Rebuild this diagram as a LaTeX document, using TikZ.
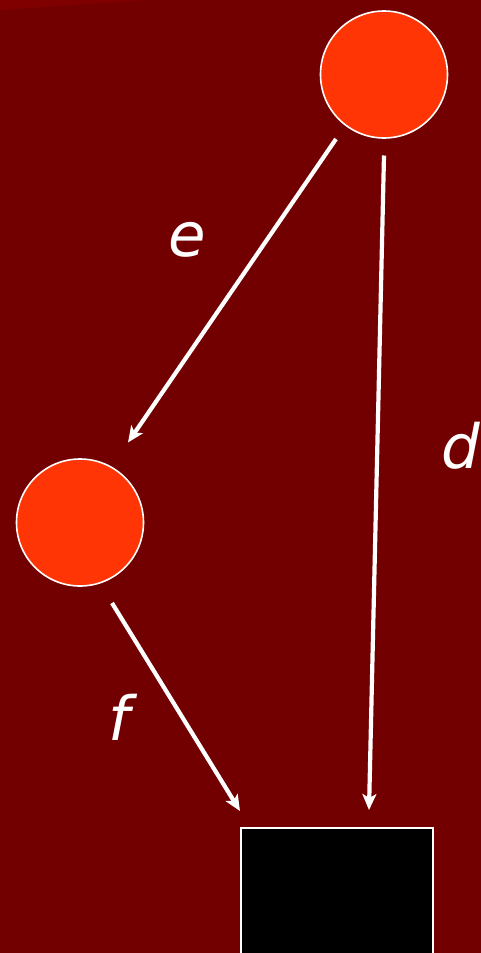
\documentclass[tikz,border=0pt]{standalone}
\usepackage{fontspec}
\setmainfont{DejaVu Sans}
\usetikzlibrary{arrows.meta,calc}
\definecolor{bgred}{RGB}{115,0,0}
\definecolor{bandred}{RGB}{128,0,0}
\definecolor{ballred}{RGB}{255,53,5}
\tikzset{
  ball/.style={circle,draw=white,line width=1.6pt,fill=ballred,minimum size=127pt,inner sep=0pt},
  arr/.style={draw=white,line width=4.2pt,-{Stealth[length=16pt,width=14pt,inset=4pt]}},
  lbl/.style={text=white,font=\itshape\fontsize{61}{61}\selectfont,inner sep=0pt}
}
\begin{document}
\begin{tikzpicture}[x=1pt,y=-1pt]
\clip (0,0) rectangle (481,953);
\fill[bgred] (0,0) rectangle (481,953);
\fill[bandred] (0,0) -- (145,0) -- (0,10) -- cycle;
\node[ball] (top) at (384,74.5) {};
\node[ball] (left) at (80,522.5) {};
\node[draw=white,fill=black,line width=2pt,minimum width=192pt,minimum height=160pt,anchor=north west,inner sep=0pt] (box) at (240,827) {};
\draw[arr] ($(top)+(-48,64.5)$) -- ($(left)+(48,-80)$);
\draw[arr] ($(top)+(0,81)$) -- ($(box.north west)+(129,-17)$);
\draw[arr] ($(left)+(32,80.5)$) -- ($(box.north west)+(0,-16)$);
\node[lbl] (le) at (187,240) {e};
\node[lbl] (ld) at (461,446) {d};
\node[lbl] (lf) at (119,717) {f};
\end{tikzpicture}
\end{document}
